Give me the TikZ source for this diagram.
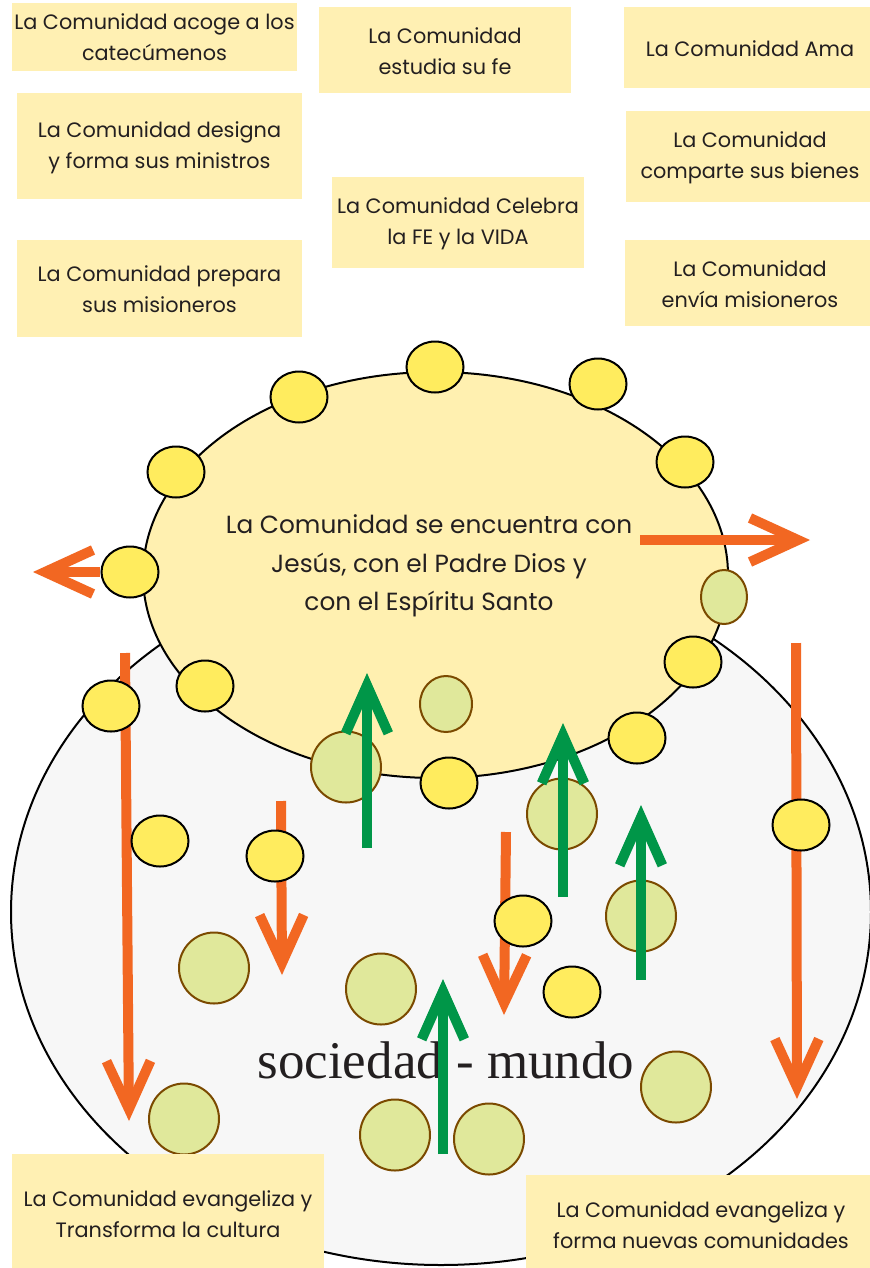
\documentclass[tikz,border=0pt]{standalone}
\usepackage{fontspec}
\setmainfont{Poppins}
\newfontfamily\serifF{Liberation Serif}
\usetikzlibrary{arrows.meta}
\definecolor{grayfill}{HTML}{F7F7F7}
\definecolor{yellowbig}{HTML}{FFF0B0}
\definecolor{boxfill}{HTML}{FFF0B3}
\definecolor{dotfill}{HTML}{FFEC5E}
\definecolor{greenfill}{HTML}{E0E89B}
\definecolor{brownline}{HTML}{7B4A00}
\definecolor{orangeA}{HTML}{F26722}
\definecolor{greenA}{HTML}{009648}
\definecolor{textc}{HTML}{231F20}
\tikzset{
  outline/.style={draw=black, line width=1.5pt},
  ydot/.style={fill=dotfill, draw=black, line width=1.5pt},
  gdot/.style={fill=greenfill, draw=brownline, line width=1.5pt},
  oarrow/.style={draw=orangeA, line width=7.5pt, -{Straight Barb[length=36pt,width=33pt]}},
  garrow/.style={draw=greenA, line width=7.5pt, -{Straight Barb[length=36pt,width=32pt]}},
  boxtext/.style={align=center, text=textc, inner sep=0pt, font=\fontsize{15.6}{23.25}\selectfont},
  centertext/.style={align=center, text=textc, inner sep=0pt, font=\fontsize{18.6}{29}\selectfont},
}
\begin{document}
\begin{tikzpicture}[x=0.75pt,y=-0.75pt]
\useasboundingbox (0,0) rectangle (870,1268);
\fill[white] (0,0) rectangle (870,1268);
% big ellipses
\draw[outline, fill=grayfill] (441,912) ellipse [x radius=430, y radius=353];
\draw[outline, fill=yellowbig] (435.5,575) ellipse [x radius=292.5, y radius=203];
% sociedad - mundo
\node[anchor=base, text=textc, inner sep=0pt, font=\serifF\fontsize{39.75}{44}\selectfont] (soc) at (446,1078) {sociedad - mundo};
% orange arrows
\draw[oarrow] (100,572) -- (33,572);
\draw[oarrow] (640,540) -- (810,540);
\draw[oarrow] (125,653) -- (129,1121);
\draw[oarrow] (281,801) -- (282,975);
\draw[oarrow] (506,832) -- (504,1015);
\draw[oarrow] (796,643) -- (797,1099);
% yellow dots
\foreach \p in {(435,367),(598,384),(299,397),(685,462),(176,472),(130,572),(205,686),(693,662),(111,706),(637,738),(449,783),(160,841),(275,856),(523,921),(572,992),(801,825)}
  \draw[ydot] \p ellipse [x radius=28.5, y radius=25.5];
% green circles
\draw[gdot] (724,597) ellipse [x radius=23, y radius=27];
\draw[gdot] (446,704) ellipse [x radius=26, y radius=28];
\foreach \p in {(346,767),(562,814),(641,916),(214,968),(381,989),(676,1087),(184,1119),(395,1135),(489,1139)}
  \draw[gdot] \p ellipse [x radius=35, y radius=35.5];
% green arrows
\draw[garrow] (367,848) -- (367,673);
\draw[garrow] (563,897) -- (563,723);
\draw[garrow] (641,980) -- (641,805);
\draw[garrow] (443,1154) -- (443,979);
% center text
\node[centertext] (center) at (429,566) {La Comunidad se encuentra con\\Jesús, con el Padre Dios y\\con el Espíritu Santo};
% boxes
\fill[boxfill] (12,3) rectangle (297,71);
\node[boxtext] (b1) at (154.5,37) {La Comunidad acoge a los\\catecúmenos};
\fill[boxfill] (319,7) rectangle (571,93);
\node[boxtext] (b2) at (445,51) {La Comunidad\\estudia su fe};
\fill[boxfill] (624,7) rectangle (870,88);
\node[boxtext] (b3) at (750,49) {La Comunidad Ama};
\fill[boxfill] (626,111) rectangle (870,202);
\node[boxtext] (b4) at (750,158) {La Comunidad\\comparte sus bienes};
\fill[boxfill] (625,240) rectangle (870,326);
\node[boxtext] (b5) at (750,284) {La Comunidad\\envía misioneros};
\fill[boxfill] (17,93) rectangle (302,199);
\node[boxtext] (b6) at (159.5,148) {La Comunidad designa\\y forma sus ministros};
\fill[boxfill] (17,240) rectangle (302,337);
\node[boxtext] (b7) at (159.5,289) {La Comunidad prepara\\sus misioneros};
\fill[boxfill] (332,177) rectangle (584,268);
\node[boxtext] (b8) at (458,224) {La Comunidad Celebra\\la FE y la VIDA};
\fill[boxfill] (12,1154) rectangle (324,1268);
\node[boxtext] (b9) at (168,1214) {La Comunidad evangeliza y\\Transforma la cultura};
\fill[boxfill] (526,1175) rectangle (870,1268);
\node[boxtext] (b10) at (701,1225) {La Comunidad evangeliza y\\forma nuevas comunidades};
\end{tikzpicture}
\end{document}
